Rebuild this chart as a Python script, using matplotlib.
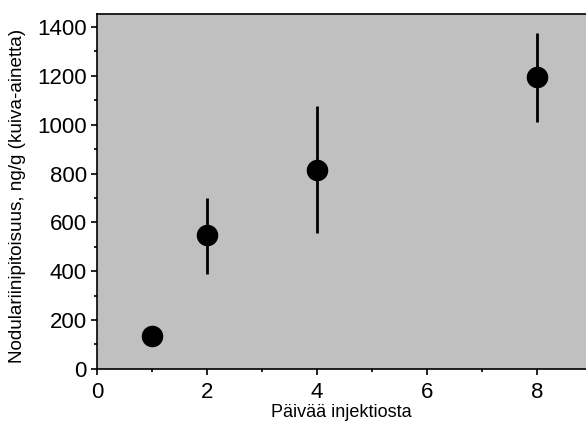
import matplotlib.pyplot as plt
from matplotlib.ticker import MultipleLocator

plt.rcParams["font.family"] = ["Liberation Sans", "DejaVu Sans"]

# days after injection and nodularin concentration (ng/g dry weight)
days = [1, 2, 4, 8]
concentration = [133, 547, 815, 1194]
err_low = [0, 157, 258, 184]
err_high = [0, 152, 260, 181]


def main():
    fig = plt.figure(figsize=(5.86, 4.26), dpi=100)
    ax = fig.add_axes([0.1655, 0.134, 0.8345, 0.833])
    ax.set_facecolor("#c0c0c0")

    ax.errorbar(
        days,
        concentration,
        yerr=[err_low, err_high],
        fmt="o",
        color="black",
        markersize=14.5,
        elinewidth=2,
        capsize=0,
    )

    ax.set_xlim(0, 8.89)
    ax.set_ylim(0, 1453)
    ax.xaxis.set_major_locator(MultipleLocator(2))
    ax.xaxis.set_minor_locator(MultipleLocator(1))
    ax.yaxis.set_major_locator(MultipleLocator(200))
    ax.yaxis.set_minor_locator(MultipleLocator(100))
    ax.tick_params(which="major", direction="out", length=4.3, width=1.2,
                   labelsize=16, pad=3)
    ax.tick_params(which="minor", direction="out", length=2.2, width=1.2)
    ax.tick_params(axis="x", pad=5)

    ax.spines["right"].set_visible(False)
    for side in ["left", "bottom", "top"]:
        ax.spines[side].set_linewidth(1.2)

    ax.set_xlabel("Päivää injektiosta", fontsize=13, labelpad=1)
    ax.set_ylabel("Nodulariinipitoisuus, ng/g (kuiva-ainetta)", fontsize=13.6, labelpad=3)
    ax.yaxis.set_label_coords(-0.145, 0.487)

    fig.savefig("out.png", dpi=100)
    plt.close(fig)


if __name__ == "__main__":
    main()
